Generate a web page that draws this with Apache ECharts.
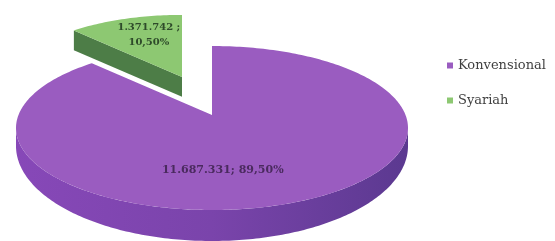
<!DOCTYPE html>
<html>
<head>
<meta charset="utf-8">
<script src="https://cdn.jsdelivr.net/npm/echarts@6/dist/echarts.min.js"></script>
<style>
html, body { margin: 0; padding: 0; background: #fff; }
#chart { width: 555px; height: 241px; }
</style>
</head>
<body>
<div id="chart"></div>
<script>
// data
var categories = ['Syariah', 'Konvensional'];
var values = [1371742, 11687331];
var legendOrder = ['Konvensional', 'Syariah'];

// styles
var topColors = ['#8dc872', '#9a5cc0'];
var darkColors = ['#4d7d47', '#7c45ad'];
var labelColors = ['#2e4a2a', '#4a2a5e'];

// geometry of the fake 3d pie (apex sits above the ellipse centre)
var CX = 212, CY = 115, RX = 196, RY = 82, OFF = 13;
var explode = [[-30, -38, 0.9], [0, 0, 1]]; // dx, dy, scale
var labelShift = [[4, -4, 0.65, 10], [-21, 10, 0.5, 11]];

var total = values.reduce(function(a, b) { return a + b; }, 0);

function fmtNum(v) {
	return String(v).replace(/\B(?=(\d{3})+(?!\d))/g, '.');
}
function fmtPct(v) {
	return (v / total * 100).toFixed(2).replace('.', ',') + '%';
}

function sliceRange(i) {
	var a = 90;
	for (var j = 0; j < i; j++) a += values[j] / total * 360;
	return [a, a + values[i] / total * 360];
}

function pt(c, a, s, k) {
	var r = a * Math.PI / 180;
	return [c[0] + RX * s * k * Math.cos(r), c[1] + OFF * s * k - RY * s * k * Math.sin(r)];
}

function depth(a) {
	var sn = Math.sin(a * Math.PI / 180);
	return 18 + 13 * Math.max(0, -sn);
}

function renderSlice(params, api) {
	var i = params.seriesIndex;
	var rg = sliceRange(i);
	var a0 = rg[0], a1 = rg[1];
	var ex = explode[i];
	var c = [CX + ex[0], CY + ex[1]];
	var s = ex[2];
	var children = [];
	var step = 1;

	// front wall
	var f0 = Math.max(a0, 180), f1 = Math.min(a1, 360);
	if (f1 > f0) {
		var tops = [], bots = [];
		for (var a = f0; a <= f1 + 0.001; a += step) {
			var p = pt(c, a, s, 1);
			tops.push(p);
			bots.push([p[0], p[1] + depth(a) * s]);
		}
		children.push({
			type: 'polygon',
			shape: { points: tops.concat(bots.reverse()) },
			style: {
				fill: {
					type: 'linear', global: true, x: CX - RX, y: 0, x2: CX + RX, y2: 0,
					colorStops: [
						{ offset: 0, color: '#8748b8' },
						{ offset: 0.5, color: '#7a44ab' },
						{ offset: 1, color: '#5b3990' }
					]
				}
			}
		});
	}

	// radial cut faces
	function cut(a) {
		var p = pt(c, a, s, 1);
		var d = 22 * s;
		children.push({
			type: 'polygon',
			shape: { points: [c, p, [p[0], p[1] + d], [c[0], c[1] + d]] },
			style: { fill: darkColors[i] }
		});
	}
	if (Math.cos(a1 * Math.PI / 180) < -0.01) cut(a1);
	if (Math.cos(a0 * Math.PI / 180) > 0.01) cut(a0);

	// top face
	var pts = [c];
	for (var b = a0; b <= a1 + 0.001; b += step) pts.push(pt(c, b, s, 1));
	pts.push(pt(c, a1, s, 1));
	children.push({
		type: 'polygon',
		shape: { points: pts },
		style: { fill: topColors[i] }
	});

	// label
	var ls = labelShift[i];
	var lp = pt(c, (a0 + a1) / 2, s, ls[2]);
	var txt = i === 0
		? fmtNum(values[i]) + ' ;\n' + fmtPct(values[i])
		: fmtNum(values[i]) + '; ' + fmtPct(values[i]);
	children.push({
		type: 'text',
		x: lp[0] + ls[0],
		y: lp[1] + ls[1],
		style: {
			text: txt,
			fill: labelColors[i],
			font: 'bold ' + ls[3] + 'px "DejaVu Serif"',
			align: 'center',
			verticalAlign: 'middle',
			lineHeight: 15
		}
	});

	return { type: 'group', children: children };
}

var series = categories.map(function(name, i) {
	return {
		type: 'custom',
		name: name,
		coordinateSystem: 'none',
		z: i + 1,
		silent: true,
		itemStyle: { color: topColors[i] },
		renderItem: renderSlice,
		data: [values[i]]
	};
});

var chart = echarts.init(document.getElementById('chart'));
chart.setOption({
	animation: false,
	legend: {
		data: legendOrder,
		orient: 'vertical',
		left: 442,
		top: 53,
		itemGap: 20,
		itemWidth: 6,
		itemHeight: 6,
		icon: 'rect',
		textStyle: {
			fontFamily: 'DejaVu Serif',
			fontSize: 13,
			lineHeight: 15,
			color: '#3f3f3f',
			padding: [0, 0, 0, 0]
		}
	},
	series: series
});
</script>
</body>
</html>
